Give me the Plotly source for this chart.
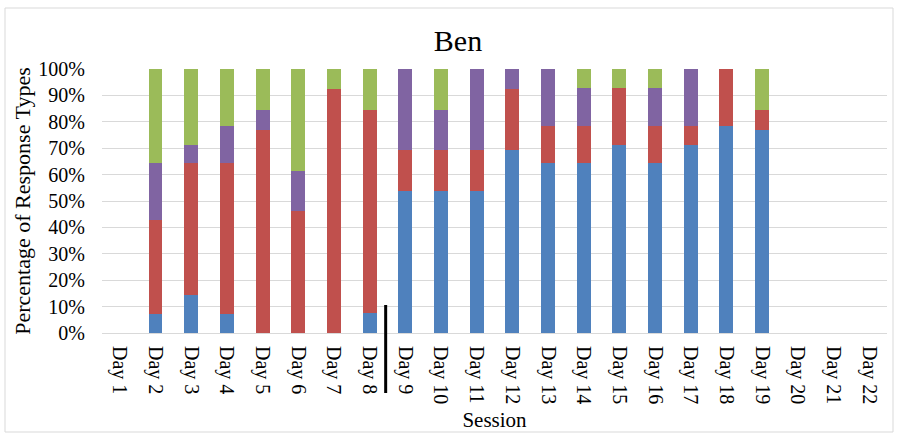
import plotly.graph_objects as go

days = [f"Day {i}" for i in range(1, 23)]

# segment percentages per day (stacked to 100%)
blue = [0, 7.1, 14.3, 7.1, 0, 0, 0, 7.7, 53.8, 53.8, 53.8, 69.2, 64.3, 64.3, 71.4, 64.3, 71.4, 78.6, 76.9, 0, 0, 0]
red = [0, 35.8, 50.0, 57.2, 76.9, 46.2, 92.3, 76.9, 15.4, 15.4, 15.4, 23.1, 14.3, 14.3, 21.5, 14.3, 7.2, 21.4, 7.7, 0, 0, 0]
purple = [0, 21.4, 7.1, 14.3, 7.7, 15.3, 0, 0, 30.8, 15.4, 30.8, 7.7, 21.4, 14.3, 0, 14.3, 21.4, 0, 0, 0, 0, 0]
green = [0, 35.7, 28.6, 21.4, 15.4, 38.5, 7.7, 15.4, 0, 15.4, 0, 0, 0, 7.1, 7.1, 7.1, 0, 0, 15.4, 0, 0, 0]

series = [("Series 1", blue, "#4F81BD"), ("Series 2", red, "#C0504D"),
          ("Series 3", purple, "#8064A2"), ("Series 4", green, "#9BBB59")]

FONT = "Liberation Serif, Times New Roman, serif"

fig = go.Figure()
for name, vals, col in series:
    fig.add_trace(go.Bar(x=days, y=vals, name=name, marker=dict(color=col, line=dict(width=0))))

L, R, T, B = 102, 11, 69, 102
W, H = 898, 435
pw, ph = W - L - R, H - T - B

def px_x(p):
    return (p - L) / pw

def px_y(p):
    return (H - B - p) / ph

fig.update_layout(
    width=W, height=H,
    barmode="stack", bargap=0.61,
    showlegend=False,
    paper_bgcolor="white", plot_bgcolor="white",
    margin=dict(l=L, r=R, t=T, b=B, autoexpand=False),
    font=dict(family=FONT, size=20, color="#000000"),
    title=dict(text="Ben", x=458 / W, xanchor="center", y=1 - 40 / H, yanchor="middle",
               font=dict(family=FONT, size=30, color="#000000"), automargin=False),
    xaxis=dict(tickangle=90, showgrid=False, showline=True, linecolor="#D9D9D9", linewidth=1,
               automargin=False,
               ticks="outside", ticklen=8, tickcolor="rgba(0,0,0,0)",
               tickfont=dict(family=FONT, size=20),
               title=dict(text="Session", font=dict(family=FONT, size=21), standoff=8)),
    yaxis=dict(range=[0, 100], tickvals=list(range(0, 101, 10)),
               ticktext=[f"{v}%" for v in range(0, 101, 10)],
               automargin=False,
               showgrid=True, gridcolor="#D9D9D9", gridwidth=1, zeroline=False,
               ticks="outside", ticklen=12, tickcolor="rgba(0,0,0,0)",
               tickfont=dict(family=FONT, size=20),
               title=dict(text="Percentage of Response Types", font=dict(family=FONT, size=22), standoff=1)),
    shapes=[
        dict(type="line", xref="x", yref="paper", x0=7.45, x1=7.45, y0=px_y(393), y1=px_y(305),
             line=dict(color="black", width=3)),
        dict(type="rect", xref="paper", yref="paper", x0=px_x(5), x1=px_x(893), y0=px_y(432), y1=px_y(8),
             line=dict(color="#D9D9D9", width=1), layer="below"),
    ],
)

fig.write_html("out.html", config={"displayModeBar": False},
               post_script="document.body.style.margin='0';document.body.style.overflow='hidden';")
